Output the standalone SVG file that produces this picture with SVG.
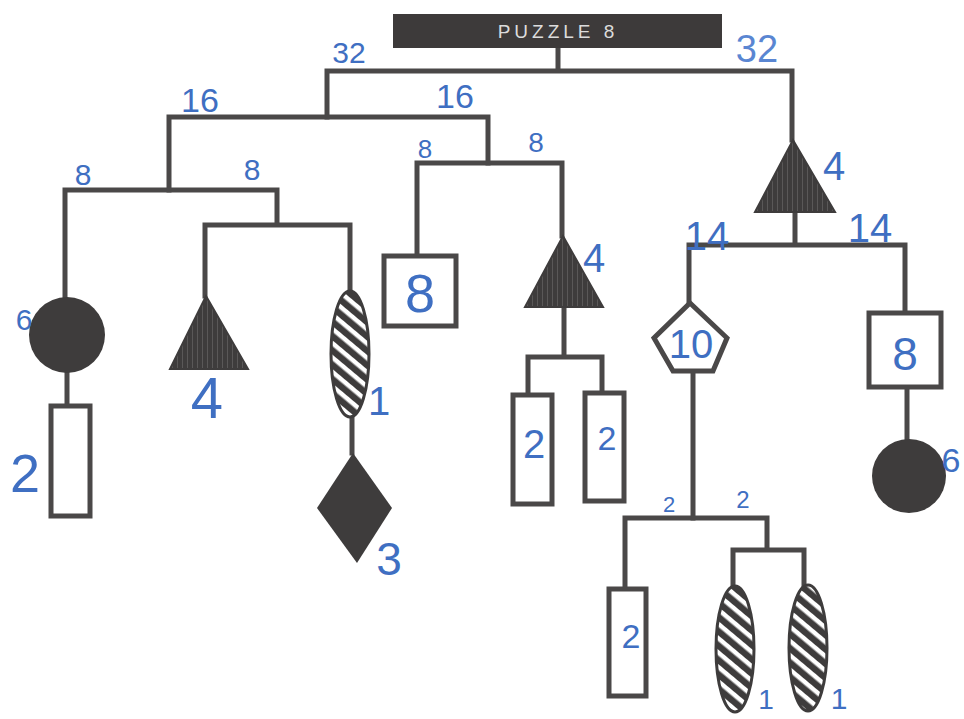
<svg xmlns="http://www.w3.org/2000/svg" width="964" height="719" viewBox="0 0 964 719">
<defs>
<pattern id="hatch" patternUnits="userSpaceOnUse" width="11" height="11" patternTransform="rotate(40)">
<rect width="11" height="11" fill="#3e3c3c"/>
<rect y="3" width="11" height="4.5" fill="#ffffff"/>
</pattern>
<pattern id="vlines" patternUnits="userSpaceOnUse" width="5" height="10">
<rect width="5" height="10" fill="#3e3c3c"/>
<rect x="2" width="1" height="10" fill="#5a5858"/>
</pattern>
</defs>
<style>
.ln{fill:none;stroke:#4a4848;stroke-width:5;stroke-linecap:square}
.box{fill:#fff;stroke:#4a4848;stroke-width:5}
.dark{fill:#3e3c3c}
.tri{fill:url(#vlines);stroke:#3e3c3c;stroke-width:2}
.ell{fill:url(#hatch);stroke:#3e3c3c;stroke-width:3}
.lb{font-family:"Liberation Sans",Arial,sans-serif;fill:#3f6fc2;text-anchor:middle}
</style>
<rect width="964" height="719" fill="#ffffff"/>

<g id="connectors" class="ln">
<path d="M558 48V71M327 71H792M327 71V117M792 71V140"/>
<path d="M169 117H488M169 117V190M488 117V163"/>
<path d="M65 190H277M65 190V297M277 190V225M205 225H350M205 225V296M350 225V290"/>
<path d="M67 373V405M352 418V453"/>
<path d="M417 163H562M417 163V255M562 163V236M564 307V357M528 357H602M528 357V394M602 357V392"/>
<path d="M795 212V245M689 245H905M689 245V302M905 245V312M693 372V518M907 388V438"/>
<path d="M625 518H767M625 518V588M767 518V550M733 550H804M733 550V585M804 550V585"/>
</g>

<g id="title">
<rect x="393" y="14" width="329" height="34" fill="#3d3a3a"/>
<text x="558" y="38" font-family="Liberation Sans,Arial,sans-serif" font-size="19" letter-spacing="4" fill="#dcdcdc" text-anchor="middle">PUZZLE 8</text>
</g>

<g id="circle-left"><circle cx="67" cy="335" r="38" class="dark"/></g>
<g id="rect-left"><rect x="51" y="406" width="39" height="110" class="box"/></g>
<g id="triangle-left"><polygon points="206,296 248,369 170,369" class="tri"/></g>
<g id="ellipse-left"><ellipse cx="350" cy="354" rx="19" ry="63" class="ell"/></g>
<g id="diamond"><polygon points="353,453 392,508 357,563 317,508" class="dark"/></g>
<g id="square-mid"><rect x="384" y="256" width="72" height="70" class="box"/></g>
<g id="triangle-mid"><polygon points="563,236 603,307 525,307" class="tri"/></g>
<g id="rect-mid1"><rect x="513" y="395" width="39" height="109" class="box"/></g>
<g id="rect-mid2"><rect x="585" y="393" width="39" height="108" class="box"/></g>
<g id="triangle-right"><polygon points="793,140 835,212 755,212" class="tri"/></g>
<g id="pentagon"><polygon points="690,303 727,338 713,371 673,371 654,338" class="box"/></g>
<g id="square-right"><rect x="869" y="313" width="72" height="74" class="box"/></g>
<g id="circle-right"><circle cx="909" cy="476" r="37" class="dark"/></g>
<g id="rect-bottom"><rect x="609" y="589" width="37" height="107" class="box"/></g>
<g id="ellipse-b1"><ellipse cx="735" cy="649" rx="19" ry="63" class="ell"/></g>
<g id="ellipse-b2"><ellipse cx="808" cy="648" rx="19" ry="63" class="ell"/></g>

<g id="labels">
<text class="lb" x="349" y="63" font-size="30">32</text>
<text class="lb" x="757" y="62" font-size="38" style="fill:#5a86d2">32</text>
<text class="lb" x="200" y="112" font-size="34">16</text>
<text class="lb" x="455" y="108" font-size="34">16</text>
<text class="lb" x="83" y="185" font-size="30">8</text>
<text class="lb" x="252" y="180" font-size="30">8</text>
<text class="lb" x="24" y="330" font-size="30">6</text>
<text class="lb" x="25" y="492" font-size="54">2</text>
<text class="lb" x="207" y="418" font-size="58">4</text>
<text class="lb" x="379" y="415" font-size="40">1</text>
<text class="lb" x="389" y="575" font-size="46">3</text>
<text class="lb" x="425" y="158" font-size="26">8</text>
<text class="lb" x="536" y="152" font-size="28">8</text>
<text class="lb" x="420" y="312" font-size="54">8</text>
<text class="lb" x="594" y="272" font-size="40">4</text>
<text class="lb" x="534" y="458" font-size="40">2</text>
<text class="lb" x="607" y="450" font-size="34">2</text>
<text class="lb" x="834" y="180" font-size="40">4</text>
<text class="lb" x="707" y="250" font-size="40">14</text>
<text class="lb" x="870" y="242" font-size="40">14</text>
<text class="lb" x="691" y="358" font-size="40">10</text>
<text class="lb" x="905" y="370" font-size="46">8</text>
<text class="lb" x="951" y="472" font-size="34">6</text>
<text class="lb" x="669" y="512" font-size="22">2</text>
<text class="lb" x="743" y="508" font-size="24">2</text>
<text class="lb" x="631" y="648" font-size="34">2</text>
<text class="lb" x="766" y="709" font-size="28">1</text>
<text class="lb" x="839" y="709" font-size="30">1</text>
</g>
</svg>
